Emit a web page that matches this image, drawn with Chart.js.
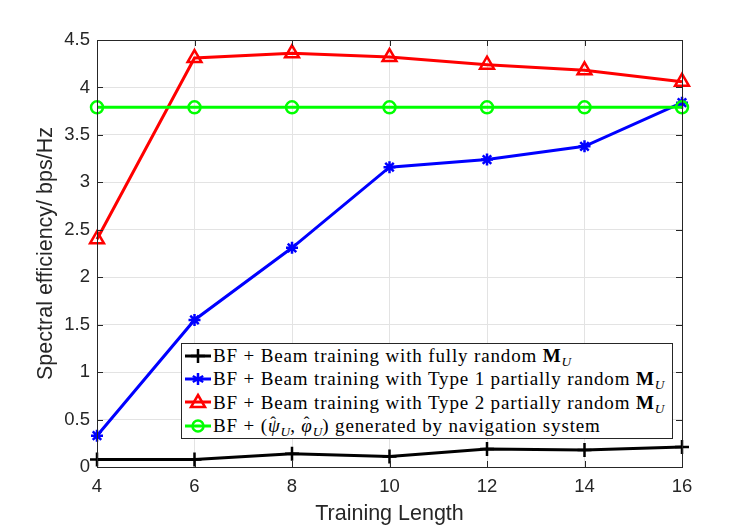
<!DOCTYPE html>
<html>
<head>
<meta charset="utf-8">
<script src="https://cdn.jsdelivr.net/npm/chart.js@4.4.1/dist/chart.umd.min.js"></script>
<style>
  html, body { margin: 0; padding: 0; background: #fff; }
  #wrap { position: relative; width: 747px; height: 527px; }
  #legend {
    position: absolute; left: 181px; top: 343px; width: 492px; height: 96px;
    background: #fff; border: 1px solid #262626; box-sizing: border-box;
    font-family: "Liberation Serif", "DejaVu Serif", serif; font-size: 19px; color: #000;
    letter-spacing: 0.85px;
  }
  #legend .row { height: 23.3px; line-height: 23.3px; white-space: nowrap; display: flex; align-items: center; }
  #legend svg { width: 28px; height: 20px; margin-left: 2px; margin-right: 1px; flex: none; }
  #legend sub { font-size: 0.7em; vertical-align: -0.3em; line-height: 0; letter-spacing: 0; }
  #legend b { font-weight: bold; }
  #legend .hat { position: relative; display: inline-block; }
  #legend .hat::after { content: "\02C6"; position: absolute; left: 0.14em; top: -0.16em; font-size: 0.9em; font-style: normal; }
</style>
</head>
<body>
<div id="wrap">
  <canvas id="myChart" width="747" height="527"></canvas>
  <div id="legend"></div>
</div>

<script>
    const trainingLength = [4, 6, 8, 10, 12, 14, 16];
    const fullyRandom = [0.08, 0.08, 0.14, 0.11, 0.19, 0.18, 0.21];
    const type1Random = [0.33, 1.55, 2.31, 3.16, 3.24, 3.38, 3.84];
    const type2Random = [2.40, 4.31, 4.36, 4.32, 4.24, 4.18, 4.06];
    const navigation = [3.79, 3.79, 3.79, 3.79, 3.79, 3.79, 3.79];
    const xTicks = [4, 6, 8, 10, 12, 14, 16];
    const yTicks = [0, 0.5, 1, 1.5, 2, 2.5, 3, 3.5, 4, 4.5];

    const MU = '<b>M</b><sub><i>U</i></sub>';
    const legendLabels = [
        'BF + Beam training with fully random ' + MU,
        'BF + Beam training with Type 1 partially random ' + MU,
        'BF + Beam training with Type 2 partially random ' + MU,
        'BF + (<i class="hat">ψ</i><sub><i>U</i></sub>, <i class="hat">φ</i><sub><i>U</i></sub>) generated by navigation system'
    ];

    function pts(ys) {
        return trainingLength.map((x, i) => ({x: x, y: ys[i]}));
    }

    // matlab style box + inward ticks
    const boxPlugin = {
        id: 'box',
        afterDraw(chart) {
            const ctx = chart.ctx, a = chart.chartArea;
            const xs = chart.scales.x, ys = chart.scales.y;
            ctx.save();
            ctx.strokeStyle = '#262626';
            ctx.lineWidth = 1;
            ctx.strokeRect(a.left + 0.5, a.top + 0.5, a.right - a.left, a.bottom - a.top);
            ctx.beginPath();
            xTicks.forEach(v => {
                const px = Math.round(xs.getPixelForValue(v)) + 0.5;
                ctx.moveTo(px, a.bottom); ctx.lineTo(px, a.bottom - 6);
                ctx.moveTo(px, a.top); ctx.lineTo(px, a.top + 6);
            });
            yTicks.forEach(v => {
                const py = Math.round(ys.getPixelForValue(v)) + 0.5;
                ctx.moveTo(a.left, py); ctx.lineTo(a.left + 6, py);
                ctx.moveTo(a.right, py); ctx.lineTo(a.right - 6, py);
            });
            ctx.stroke();
            ctx.restore();
        }
    };

    const series = [
        {label: 'fully', data: pts(fullyRandom), color: '#000000', style: 'cross', r: 7, order: 4},
        {label: 'type1', data: pts(type1Random), color: '#0000ff', style: 'star', r: 6, order: 3},
        {label: 'type2', data: pts(type2Random), color: '#ff0000', style: 'triangle', r: 8, order: 2},
        {label: 'nav', data: pts(navigation), color: '#00ff00', style: 'circle', r: 6, order: 1}
    ];

    const tickFont = {family: 'Liberation Sans', size: 18.5};
    const titleFont = {family: 'Liberation Sans', size: 21.5};

    const myChart = new Chart('myChart', {
        type: 'line',
        data: {
            datasets: series.map(s => ({
                label: s.label,
                data: s.data,
                borderColor: s.color,
                backgroundColor: s.color,
                borderWidth: 3,
                pointStyle: s.style,
                pointRadius: s.r,
                pointBorderWidth: 2.5,
                pointBorderColor: s.color,
                pointBackgroundColor: 'rgba(255,255,255,0)',
                tension: 0,
                order: s.order,
                clip: false
            }))
        },
        options: {
            responsive: false,
            animation: false,
            layout: {padding: {left: 33, right: 65, top: 40, bottom: 0}},
            plugins: {legend: {display: false}, tooltip: {enabled: false}},
            scales: {
                x: {
                    type: 'linear', min: 4, max: 16,
                    afterBuildTicks: s => { s.ticks = xTicks.map(v => ({value: v})); },
                    afterFit: s => { s.height = 60; },
                    grid: {color: '#e3e3e3', drawTicks: false},
                    border: {display: false},
                    ticks: {color: '#262626', padding: 9, font: tickFont, callback: v => String(v)},
                    title: {display: true, text: 'Training Length', color: '#262626', padding: 0, font: titleFont}
                },
                y: {
                    type: 'linear', min: 0, max: 4.5,
                    afterBuildTicks: s => { s.ticks = yTicks.map(v => ({value: v})); },
                    afterFit: s => { s.width = 64; },
                    grid: {color: '#e3e3e3', drawTicks: false},
                    border: {display: false},
                    ticks: {color: '#262626', padding: 7, font: tickFont, callback: v => String(v)},
                    title: {display: true, text: 'Spectral efficiency/ bps/Hz', color: '#262626', padding: 0, font: titleFont}
                }
            }
        },
        plugins: [boxPlugin]
    });

    // html legend so the subscripts stay real text
    function icon(s) {
        const c = s.color;
        let m = '';
        if (s.style === 'cross') m = `<path d="M14 3V17M7 10H21" stroke="${c}" stroke-width="2.5"/>`;
        if (s.style === 'star') m = `<path d="M14 4V16M8.8 7L19.2 13M8.8 13L19.2 7" stroke="${c}" stroke-width="2.5"/>`;
        if (s.style === 'triangle') m = `<path d="M14 3L21 15H7Z" fill="none" stroke="${c}" stroke-width="2.5"/>`;
        if (s.style === 'circle') m = `<circle cx="14" cy="10" r="5.5" fill="none" stroke="${c}" stroke-width="2.5"/>`;
        return `<svg viewBox="0 0 28 20"><path d="M1 10H27" stroke="${c}" stroke-width="3"/>${m}</svg>`;
    }
    document.getElementById('legend').innerHTML = series.map((s, i) =>
        `<div class="row">${icon(s)}<span>${legendLabels[i]}</span></div>`).join('');
</script>
</body>
</html>
